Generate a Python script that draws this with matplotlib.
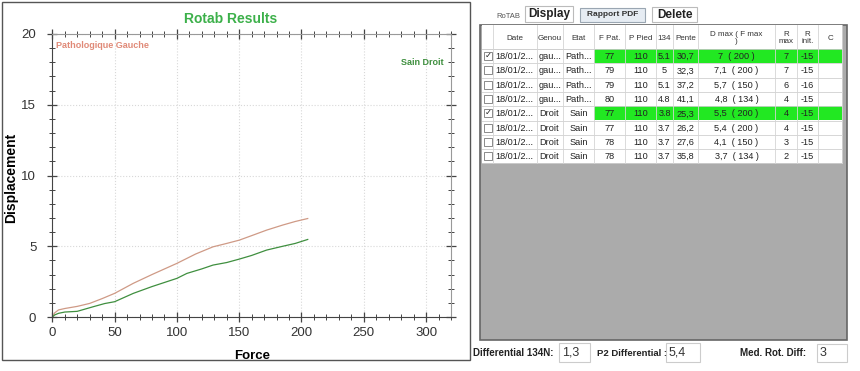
import matplotlib
matplotlib.use("Agg")
import matplotlib.pyplot as plt
from matplotlib.patches import Rectangle
from matplotlib.ticker import MultipleLocator

plt.rcParams["font.family"] = ["Liberation Sans", "DejaVu Sans"]

# curve data (force, displacement)
patho_force = [0, 2, 5, 10, 20, 30, 40, 50, 65, 80, 100, 115, 129, 140, 150, 160, 172, 185, 195, 205]
patho_disp = [0, 0.3, 0.5, 0.6, 0.75, 0.96, 1.3, 1.67, 2.38, 3.0, 3.79, 4.45, 4.96, 5.2, 5.43, 5.75, 6.14, 6.5, 6.75, 6.96]
sain_force = [0, 2, 5, 10, 20, 33, 42, 50, 65, 80, 100, 108, 120, 129, 140, 150, 160, 172, 185, 195, 205]
sain_disp = [0, 0.15, 0.26, 0.35, 0.4, 0.73, 0.95, 1.08, 1.67, 2.15, 2.73, 3.08, 3.4, 3.67, 3.85, 4.09, 4.35, 4.73, 5.0, 5.2, 5.48]

# table data
headers = ["", "Date", "Genou", "Etat", "F Pat.", "P Pied", "134", "Pente",
           "D max ( F max\n)", "R\nmax", "R\ninit.", "C"]
dates = ["18/01/2..."] * 8
genou = ["gau...", "gau...", "gau...", "gau...", "Droit", "Droit", "Droit", "Droit"]
etat = ["Path...", "Path...", "Path...", "Path...", "Sain", "Sain", "Sain", "Sain"]
f_pat = ["77", "79", "79", "80", "77", "77", "78", "78"]
p_pied = ["110"] * 8
v134 = ["5.1", "5", "5.1", "4.8", "3.8", "3.7", "3.7", "3.7"]
pente = ["30,7", "32,3", "37,2", "41,1", "25,3", "26,2", "27,6", "35,8"]
dmax = ["7  ( 200 )", "7,1  ( 200 )", "5,7  ( 150 )", "4,8  ( 134 )",
        "5,5  ( 200 )", "5,4  ( 200 )", "4,1  ( 150 )", "3,7  ( 134 )"]
rmax = ["7", "7", "6", "4", "4", "4", "3", "2"]
rinit = ["-15", "-15", "-16", "-15", "-15", "-15", "-15", "-15"]
checked = [True, False, False, False, True, False, False, False]

diff_134 = "1,3"
p2_diff = "5,4"
med_rot = "3"

W, H = 860, 371
fig = plt.figure(figsize=(W / 100, H / 100), dpi=100)
fig.patch.set_facecolor("white")

# full-figure overlay in pixel coords for the UI parts
ui = fig.add_axes([0, 0, 1, 1])
ui.set_xlim(0, W)
ui.set_ylim(H, 0)
ui.axis("off")

# left panel frame
ui.add_patch(Rectangle((2, 2), 468, 358, fill=False, ec="#555555", lw=1))
ui.text(231, 19, "Rotab Results", color="#3cb04a", fontsize=10, fontweight="bold",
        ha="center", va="center")

# buttons
ui.text(508, 16, "RoTAB", fontsize=5.5, color="#555555", ha="center", va="center")
ui.add_patch(Rectangle((525, 6), 48, 16, fc="white", ec="#bbbbbb", lw=0.8))
ui.text(549, 14, "Display", fontsize=8.5, fontweight="bold", ha="center", va="center", color="#222222")
ui.add_patch(Rectangle((580, 8), 65, 14, fc="#e6ecf3", ec="#9aa6b2", lw=0.8))
ui.text(612.5, 15, "Rapport PDF", fontsize=6, fontweight="bold", ha="center", va="center", color="#333333")
ui.add_patch(Rectangle((652, 7), 45, 15, fc="white", ec="#bbbbbb", lw=0.8))
ui.text(674.5, 14.5, "Delete", fontsize=8.5, fontweight="bold", ha="center", va="center", color="#222222")

# table
col_edges = [482, 493, 537, 563, 594, 625, 656, 673, 698, 775, 797, 818, 842]
tbl_top, hdr_bot, row_h = 25, 49, 14.3
ui.add_patch(Rectangle((480, 25), 367, 315, fc="#ababab", ec="#666666", lw=1.2))
n_rows = len(dates)
tbl_bot = hdr_bot + row_h * n_rows
ui.add_patch(Rectangle((482, tbl_top), 360, tbl_bot - tbl_top, fc="white", ec="none"))

for i, (a, b) in enumerate(zip(col_edges[:-1], col_edges[1:])):
    ui.text((a + b) / 2, (tbl_top + hdr_bot) / 2 + 1, headers[i], fontsize=5.8, color="#333333",
            ha="center", va="center", linespacing=0.9)

columns = [dates, genou, etat, f_pat, p_pied, v134, pente, dmax, rmax, rinit]
for r in range(n_rows):
    y0 = hdr_bot + r * row_h
    yc = y0 + row_h / 2
    if checked[r]:
        ui.add_patch(Rectangle((col_edges[4], y0), col_edges[-1] - col_edges[4], row_h,
                               fc="#22e822", ec="none"))
    # checkbox
    ui.add_patch(Rectangle((484, yc - 4), 8, 8, fc="white", ec="#777777", lw=0.6))
    if checked[r]:
        ui.text(488, yc, "\u2713", fontsize=6, ha="center", va="center", color="#222222")
    for c, col in enumerate(columns):
        a, b = col_edges[c + 1], col_edges[c + 2]
        ha = "left" if c < 2 else "center"
        x = a + 2 if ha == "left" else (a + b) / 2
        ui.text(x, yc + 0.5, col[r], fontsize=6.6, ha=ha, va="center", color="#222222")
    ui.plot([482, 842], [y0 + row_h, y0 + row_h], color="#d0d0d0", lw=0.6)

ui.plot([482, 842], [hdr_bot, hdr_bot], color="#c8c8c8", lw=0.6)
for x in col_edges[1:-1]:
    ui.plot([x, x], [tbl_top, tbl_bot], color="#d4d4d4", lw=0.6)
ui.plot([842, 842], [tbl_top, tbl_bot], color="#d4d4d4", lw=0.6)

# bottom fields
ui.text(473, 353, "Differential 134N:", fontsize=7.0, fontweight="bold", ha="left", va="center", color="#222222")
ui.add_patch(Rectangle((559, 343), 31, 19, fc="white", ec="#cccccc", lw=0.8))
ui.text(562, 352.5, diff_134, fontsize=9, ha="left", va="center", color="#333333")
ui.text(597, 353, "P2 Differential :", fontsize=6.8, fontweight="bold", ha="left", va="center", color="#222222")
ui.add_patch(Rectangle((666, 343), 34, 19, fc="white", ec="#cccccc", lw=0.8))
ui.text(669, 352.5, p2_diff, fontsize=9, ha="left", va="center", color="#333333")
ui.text(740, 353, "Med. Rot. Diff:", fontsize=7.0, fontweight="bold", ha="left", va="center", color="#222222")
ui.add_patch(Rectangle((817, 344), 30, 18, fc="white", ec="#cccccc", lw=0.8))
ui.text(820, 353, med_rot, fontsize=9, ha="left", va="center", color="#333333")

# chart
ax = fig.add_axes([52.3 / W, 1 - 317 / H, (451 - 52.3) / W, (317 - 34) / H])
ax.plot(patho_force, patho_disp, color="#cf9a86", lw=0.9)
ax.plot(sain_force, sain_disp, color="#3f8f3f", lw=0.9)
ax.set_xlim(0, 320)
ax.set_ylim(0, 20)
ax.xaxis.set_major_locator(MultipleLocator(50))
ax.xaxis.set_minor_locator(MultipleLocator(10))
ax.yaxis.set_major_locator(MultipleLocator(5))
ax.yaxis.set_minor_locator(MultipleLocator(1))
ax.grid(True, which="major", linestyle=":", color="#d8d8d8", lw=0.8)
ax.tick_params(which="major", direction="inout", length=7, width=0.9, labelsize=9.5,
               labelcolor="#333333", top=True, right=True, color="#444444")
ax.tick_params(which="minor", direction="inout", length=4, width=0.7, top=True, right=True, color="#444444")
ax.tick_params(axis="y", which="major", pad=8)
for side in ["top", "right"]:
    ax.spines[side].set_color("#999999")
    ax.spines[side].set_linewidth(0.8)
for side in ["left", "bottom"]:
    ax.spines[side].set_color("#444444")
ax.set_xlabel("Force", fontsize=9.5, fontweight="bold")
ax.set_ylabel("Displacement", fontsize=10, fontweight="bold")
ax.yaxis.set_label_coords(-0.086, 0.49)
ax.xaxis.set_label_coords(0.5, -0.117)
ax.text(3, 19.2, "Pathologique Gauche", fontsize=6.5, fontweight="bold", color="#e08a78",
        ha="left", va="center")
ax.text(314, 18.0, "Sain Droit", fontsize=6.5, fontweight="bold", color="#3f8f3f",
        ha="right", va="center")

fig.savefig("out.png", dpi=100)
